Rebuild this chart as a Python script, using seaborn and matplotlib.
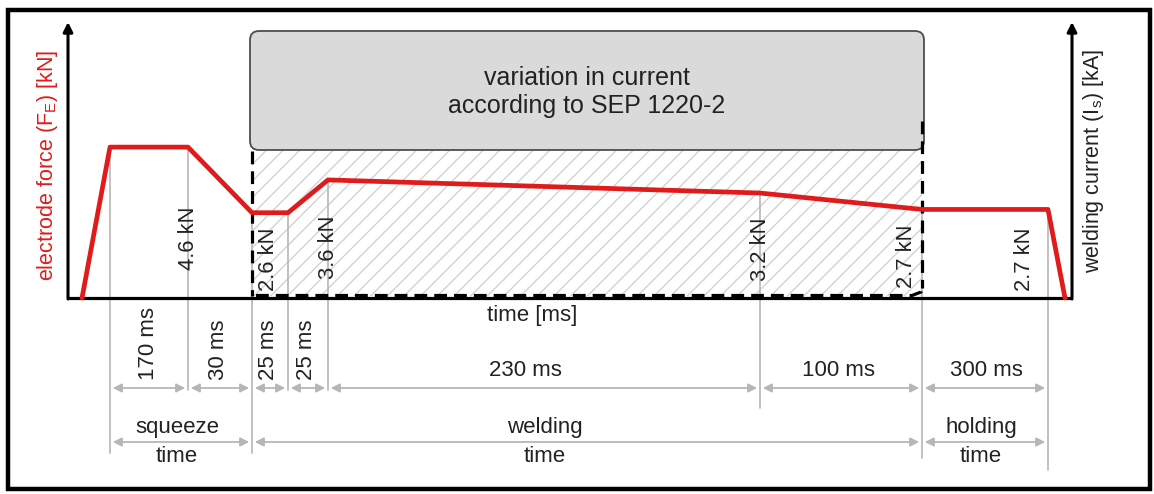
import matplotlib
matplotlib.use("Agg")
import matplotlib.pyplot as plt
from matplotlib.patches import Rectangle, FancyBboxPatch
import seaborn as sns
import pandas as pd

# ---- process data -------------------------------------------------------
phase_ms = [170, 30, 25, 25, 230, 100, 300]            # segment durations
force_kN = [4.6, 4.6, 2.6, 2.6, 3.6, 3.2, 2.7, 2.7]    # force at each node
force_labels = ["4.6 kN", "2.6 kN", "3.6 kN", "3.2 kN", "2.7 kN", "2.7 kN"]
phase_names = ["squeeze\ntime", "welding\ntime", "holding\ntime"]
box_text = "variation in current\naccording to SEP 1220-2"

# ---- schematic layout (time axis is not to scale) -----------------------
node_x = [110, 188, 252, 288, 328, 760, 922, 1048]
start_x, end_x = 82, 1065
W, H = 1154, 494
BASE = 298            # baseline row (pixels from top)
K = 32.8              # pixels per kN


def Y(py):
    """pixel row -> force axis value"""
    return (BASE - py) / K


RED = "#e01b1b"
GRAY = "#b6b6b6"
TXT = "#222222"

sns.set_theme(style="white")
plt.rcParams["font.family"] = ["Liberation Sans", "DejaVu Sans"]
plt.rcParams["hatch.linewidth"] = 1.0

fig = plt.figure(figsize=(W / 100, H / 100), dpi=100)
ax = fig.add_axes([0, 0, 1, 1])
ax.set_xlim(0, W)
ax.set_ylim(Y(H), Y(0))
ax.axis("off")

# outer frame
ax.add_patch(Rectangle((8, Y(489)), 1142, Y(10) - Y(489), fill=False,
                       ec="black", lw=3.2, zorder=10))

# current-variation box with hatched window below it
ax.add_patch(FancyBboxPatch((250 + 9, Y(150) + 9 / K), 674 - 18, (150 - 31 - 18) / K,
                            boxstyle="round,pad=9", mutation_aspect=1 / K,
                            fc="#dadada", ec="#4d4d4d", lw=1.3, zorder=2))
ax.text(587, Y(92), box_text, ha="center", va="center", fontsize=18,
        color=TXT, linespacing=1.2, zorder=3)
ax.add_patch(Rectangle((252, Y(296)), 922 - 252, Y(151) - Y(296), fill=False,
                       hatch="//", ec="#d2d2d2", lw=0, zorder=1))

# guide lines dropping from the curve nodes
drop_to = [453, 390, 453, 390, 390, 408, 458, 470]
for x, f, yb in zip(node_x, force_kN, drop_to):
    ax.plot([x, x], [f, Y(yb)], color=GRAY, lw=1.2, zorder=3)

# dashed outline of the welding window
dash = dict(color="black", lw=2.3, ls=(0, (4, 2.2)), zorder=5)
ax.plot([252, 252], [Y(151), Y(296)], **dash)
ax.plot([922, 922], [Y(121), Y(288)], **dash)
ax.plot([256, 912, 921, 922], [Y(295.5), Y(295.5), Y(292), Y(287)], **dash)

# axes with arrows
ax.plot([68, 1072], [0, 0], color="black", lw=2.3, zorder=6, solid_capstyle="butt")
for xa in (68, 1072):
    ax.annotate("", xy=(xa, Y(22)), xytext=(xa, Y(BASE + 1)),
                arrowprops=dict(arrowstyle="-|>", color="black", lw=2.2,
                                mutation_scale=14, shrinkA=0, shrinkB=0), zorder=6)

# force profile
curve = pd.DataFrame({"x": [start_x] + node_x + [end_x],
                      "F": [0.0] + force_kN + [0.0]})
sns.lineplot(data=curve, x="x", y="F", sort=False, estimator=None, color=RED,
             lw=3.4, ax=ax, zorder=7)

# force value labels (rotated)
lab_x = [189, 268, 329, 761, 906, 1025]
lab_y = [238, 259, 247, 249, 256, 259]
for s, x, y in zip(force_labels, lab_x, lab_y):
    ax.text(x, Y(y), s, rotation=90, ha="center", va="center", fontsize=15.8,
            color=TXT, zorder=8)

# axis titles
ax.text(48, Y(165), r"electrode force (F$_\mathregular{E}$) [kN]", rotation=90,
        ha="center", va="center", fontsize=15.5, color=RED)
ax.text(1093, Y(161), r"welding current (I$_\mathregular{s}$) [kA]", rotation=90,
        ha="center", va="center", fontsize=15.5, color=TXT)
ax.text(532, Y(315), "time [ms]", ha="center", va="center", fontsize=16, color=TXT)

# dimension arrows
arrow = dict(arrowstyle="<|-|>", color=GRAY, lw=1.3, mutation_scale=13,
             shrinkA=2, shrinkB=2)
ROW1, ROW2 = 388, 442
for x0, x1 in zip(node_x[:-1], node_x[1:]):
    ax.annotate("", xy=(x1, Y(ROW1)), xytext=(x0, Y(ROW1)), arrowprops=arrow, zorder=4)

seg_labels = [f"{d} ms" for d in phase_ms]
rot_x = [149, 218, 268, 307]
for s, x in zip(seg_labels[:4], rot_x):
    ax.text(x, Y(380), s, rotation=90, ha="center", va="bottom", fontsize=16,
            color=TXT)
for s, x in zip(seg_labels[4:], [525, 838, 986]):
    ax.text(x, Y(370), s, ha="center", va="center", fontsize=16, color=TXT)

phase_bounds = [(node_x[0], node_x[2]), (node_x[2], node_x[6]), (node_x[6], node_x[7])]
for (x0, x1), name, xt in zip(phase_bounds, phase_names, [177, 545, 981]):
    ax.annotate("", xy=(x1, Y(ROW2)), xytext=(x0, Y(ROW2)), arrowprops=arrow, zorder=4)
    top, bottom = name.split("\n")
    ax.text(xt, Y(427), top, ha="center", va="center", fontsize=16, color=TXT)
    ax.text(xt, Y(456), bottom, ha="center", va="center", fontsize=16, color=TXT)

fig.savefig("out.png", dpi=100, facecolor="white")
